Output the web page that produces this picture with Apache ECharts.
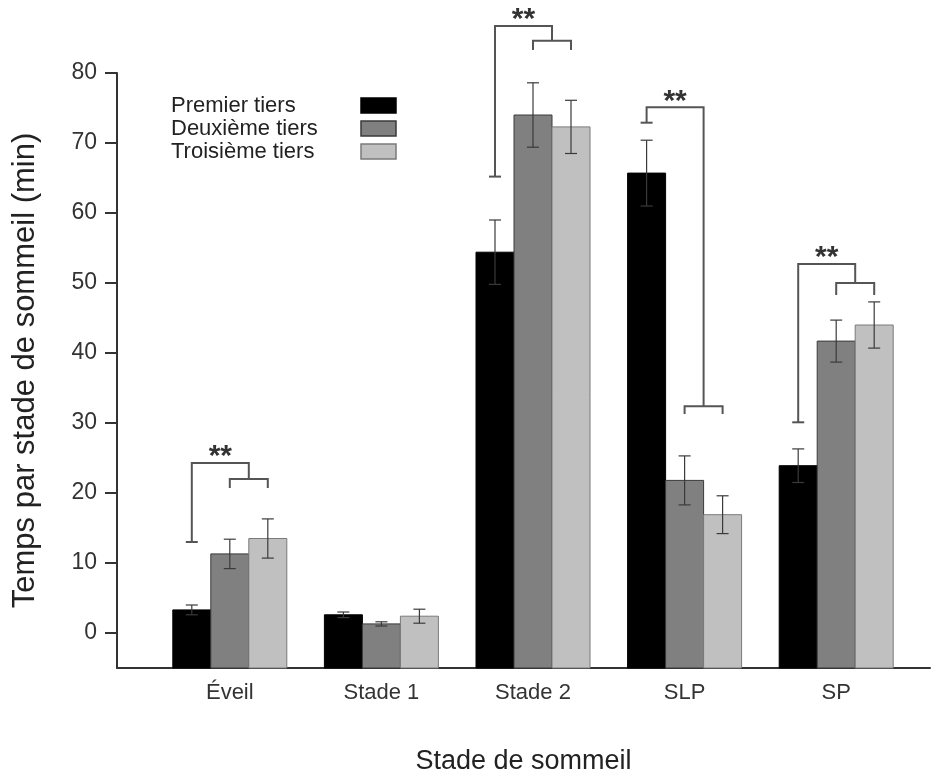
<!DOCTYPE html>
<html>
<head>
<meta charset="utf-8">
<script src="https://cdn.jsdelivr.net/npm/echarts@6/dist/echarts.min.js"></script>
<style>
  html, body { margin: 0; padding: 0; background: #fff; }
  #main { width: 937px; height: 773px; }
</style>
</head>
<body>
<div id="main"></div>
<script>
// catégories et séries
var categories = ['Éveil', 'Stade 1', 'Stade 2', 'SLP', 'SP'];
var tierNames = ['Premier tiers', 'Deuxième tiers', 'Troisième tiers'];
var premierVals = [3.3, 2.6, 54.4, 65.7, 23.9];
var premierErr = [0.7, 0.4, 4.6, 4.7, 2.4];
var deuxiemeVals = [11.3, 1.3, 74.0, 21.8, 41.7];
var deuxiemeErr = [2.1, 0.3, 4.6, 3.5, 3.0];
var troisiemeVals = [13.5, 2.4, 72.3, 16.9, 44.0];
var troisiemeErr = [2.8, 1.0, 3.8, 2.7, 3.3];
var yTicks = [0, 10, 20, 30, 40, 50, 60, 70, 80];

// crochets de significativité
var sigCategory = [0, 2, 3, 4];
var sigFootLeft = [13.0, 65.2, 72.9, 30.1];
var sigTop = [24.3, 86.7, 75.1, 52.7];
var sigJoin = [22.0, 84.6, 32.4, 50.0];
var sigFootRight = [20.7, 83.3, 31.3, 48.3];
var sigLabel = ['**', '**', '**', '**'];

var BAR_W = 38;
var tierFill = ['#000000', '#808080', '#c0c0c0'];
var tierBorder = ['#000000', '#3a3a3a', '#7a7a7a'];

function makeBarRenderer(tier) {
    return function(params, api) {
        var cat = api.value(0);
        var val = api.value(1);
        var err = api.value(2);
        var cx = api.coord([cat, 0])[0] + (tier - 1) * BAR_W;
        var top = api.coord([cat, val])[1];
        var bottom = params.coordSys.y + params.coordSys.height;
        var eTop = api.coord([cat, val + err])[1];
        var eBot = api.coord([cat, val - err])[1];
        var errStyle = { stroke: '#3a3a3a', lineWidth: 1.2 };
        return {
            type: 'group',
            children: [
                { type: 'rect', shape: { x: cx - BAR_W / 2, y: top, width: BAR_W, height: bottom - top },
                  style: { fill: tierFill[tier], stroke: tierBorder[tier], lineWidth: 1 } },
                { type: 'line', shape: { x1: cx, y1: eTop, x2: cx, y2: eBot }, style: errStyle },
                { type: 'line', shape: { x1: cx - 6, y1: eTop, x2: cx + 6, y2: eTop }, style: errStyle },
                { type: 'line', shape: { x1: cx - 6, y1: eBot, x2: cx + 6, y2: eBot }, style: errStyle }
            ]
        };
    };
}

function renderBracket(params, api) {
    var cat = api.value(0);
    var cx = api.coord([cat, 0])[0];
    var xA = cx - BAR_W, xB = cx, xC = cx + BAR_W;
    var xMid = (xB + xC) / 2;
    var yFoot = api.coord([cat, api.value(1)])[1];
    var yTop = api.coord([cat, api.value(2)])[1];
    var yJoin = api.coord([cat, api.value(3)])[1];
    var yFootR = api.coord([cat, api.value(4)])[1];
    var ls = { stroke: '#555', lineWidth: 2, fill: null };
    return {
        type: 'group',
        children: [
            { type: 'polyline', shape: { points: [[xA, yFoot], [xA, yTop], [xMid, yTop], [xMid, yJoin]] }, style: ls },
            { type: 'polyline', shape: { points: [[xB, yFootR], [xB, yJoin], [xC, yJoin], [xC, yFootR]] }, style: ls },
            { type: 'line', shape: { x1: xA - 6, y1: yFoot, x2: xA + 6, y2: yFoot }, style: ls },
            { type: 'text', style: { x: (xA + xMid) / 2, y: yTop + 9, text: sigLabel[params.dataIndex],
                align: 'center', verticalAlign: 'bottom', fill: '#333',
                font: 'bold 30px "Liberation Sans", Arial, sans-serif' } }
        ]
    };
}

function tierData(vals, errs) {
    return vals.map(function(v, i) { return [i, v, errs[i]]; });
}

var bracketData = sigCategory.map(function(c, i) {
    return [c, sigFootLeft[i], sigTop[i], sigJoin[i], sigFootRight[i]];
});

var chart = echarts.init(document.getElementById('main'));
var FONT = '"Liberation Sans", Arial, sans-serif';

var option = {
    animation: false,
    backgroundColor: '#fff',
    textStyle: { fontFamily: FONT },
    legend: {
        left: 171,
        top: 94,
        padding: 0,
        orient: 'vertical',
        align: 'right',
        icon: 'rect',
        itemWidth: 35,
        itemHeight: 15,
        itemGap: 0,
        selectedMode: false,
        formatter: function(name) { return '{t|' + name + '}'; },
        textStyle: {
            fontFamily: FONT, fontSize: 22, color: '#222', lineHeight: 23,
            rich: { t: { width: 185, align: 'left', fontFamily: FONT, fontSize: 22, color: '#222', lineHeight: 23 } }
        },
        data: tierNames.map(function(n, i) {
            return { name: n, itemStyle: { color: tierFill[i], borderColor: tierBorder[i], borderWidth: 1.5 } };
        })
    },
    grid: [
        { left: 117, right: 7, top: 73, bottom: 105, outerBoundsMode: 'none' },
        { left: 154, right: 25, top: 73, bottom: 105, outerBoundsMode: 'none' }
    ],
    xAxis: [
        {
            gridIndex: 0, type: 'value', min: 0, max: 1,
            name: 'Stade de sommeil', nameLocation: 'middle', nameGap: 80,
            nameTextStyle: { fontFamily: FONT, fontSize: 27, color: '#222' },
            axisLine: { show: true, onZero: false, lineStyle: { color: '#333', width: 2 } },
            axisTick: { show: false }, axisLabel: { show: false }, splitLine: { show: false }
        },
        {
            gridIndex: 1, type: 'category', data: categories,
            axisLine: { show: false }, axisTick: { show: false }, splitLine: { show: false },
            axisLabel: { fontFamily: FONT, fontSize: 22, color: '#333', margin: 14 }
        }
    ],
    yAxis: [
        {
            gridIndex: 0, type: 'value', min: -5, max: 80,
            name: 'Temps par stade de sommeil (min)', nameLocation: 'middle', nameGap: 76,
            nameRotate: 90, nameMoveOverlap: false,
            nameTextStyle: { fontFamily: FONT, fontSize: 31, color: '#222' },
            axisLine: { show: true, onZero: false, lineStyle: { color: '#333', width: 2 } },
            axisTick: { show: true, length: 12, lineStyle: { color: '#333', width: 2 }, customValues: yTicks },
            axisLabel: { fontFamily: FONT, fontSize: 23, color: '#333', margin: 20, customValues: yTicks },
            splitLine: { show: false }
        },
        {
            gridIndex: 1, type: 'value', min: -5, max: 80, show: false,
            splitLine: { show: false }
        }
    ],
    series: [
        { name: tierNames[0], type: 'custom', xAxisIndex: 1, yAxisIndex: 1, renderItem: makeBarRenderer(0),
          encode: { x: 0, y: [1, 2] }, itemStyle: { color: tierFill[0] }, data: tierData(premierVals, premierErr) },
        { name: tierNames[1], type: 'custom', xAxisIndex: 1, yAxisIndex: 1, renderItem: makeBarRenderer(1),
          encode: { x: 0, y: [1, 2] }, itemStyle: { color: tierFill[1] }, data: tierData(deuxiemeVals, deuxiemeErr) },
        { name: tierNames[2], type: 'custom', xAxisIndex: 1, yAxisIndex: 1, renderItem: makeBarRenderer(2),
          encode: { x: 0, y: [1, 2] }, itemStyle: { color: tierFill[2] }, data: tierData(troisiemeVals, troisiemeErr) },
        { name: 'sig', type: 'custom', xAxisIndex: 1, yAxisIndex: 1, renderItem: renderBracket, clip: false,
          encode: { x: 0, y: [1, 2, 3, 4] }, z: 5, data: bracketData }
    ]
};

chart.setOption(option);
</script>
</body>
</html>
